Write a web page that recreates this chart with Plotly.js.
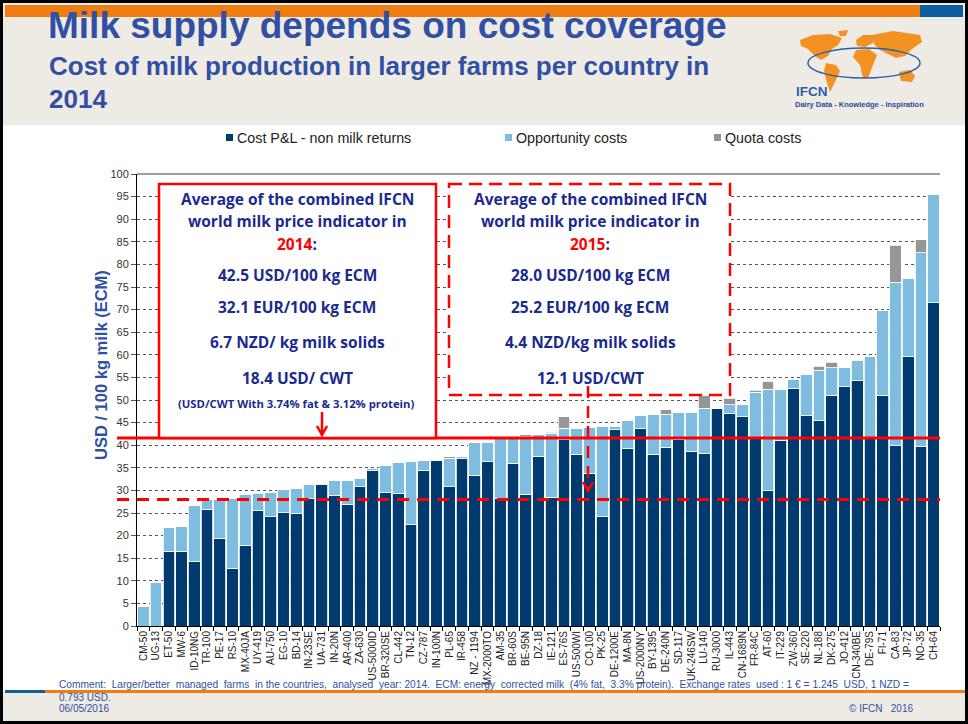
<!DOCTYPE html>
<html>
<head>
<meta charset="utf-8">
<script src="https://cdn.plot.ly/plotly-3.0.1.min.js"></script>
<style>
  html, body { margin: 0; padding: 0; background: #fff; }
  #chart { width: 968px; height: 724px; }
</style>
</head>
<body>
<div id="chart"></div>
<script>
// ---- data (USD / 100 kg ECM) ----
const countries = ['CM-50', 'UG-13', 'ET-50', 'MW-6', 'ID-10NG', 'TR-100', 'PE-17', 'RS-10', 'MX-40JA', 'UY-419',
  'AU-750', 'EG-10', 'BD-14', 'IN-23SE', 'UA-731', 'IN-20N', 'AR-400', 'ZA-630', 'US-5000ID', 'BR-320SE',
  'CL-442', 'TN-12', 'CZ-787', 'IN-100N', 'PL-65', 'IR-458', 'NZ - 1194', 'MX-2000TO', 'AM-35', 'BR-60S',
  'BE-95N', 'DZ-18', 'IE-121', 'ES-76S', 'US-500WI', 'CO-100', 'PK-25', 'DE-1200E', 'MA-8N', 'US-2000NY',
  'BY-1395', 'DE-240N', 'SD-117', 'UK-246SW', 'LU-140', 'RU-3000', 'IL-443', 'CN-1689N', 'FR-84C', 'AT-60',
  'IT-229', 'ZW-360', 'SE-220', 'NL-188', 'DK-275', 'JO-412', 'CN-340BE', 'DE-79S', 'FI-71', 'CA-83',
  'JP-72', 'NO-35', 'CH-64'];

const costPL = [0, 0, 16.5, 16.5, 14.2, 25.7, 19.4, 12.8, 17.9, 25.5,
  24.2, 25.1, 24.8, 28.2, 31.3, 28.8, 26.9, 30.8, 34.3, 29.5,
  29.3, 22.4, 34.5, 36.7, 30.8, 37.1, 33.4, 36.3, 28.3, 36.0,
  29.1, 37.6, 28.5, 41.2, 38.0, 33.8, 24.2, 43.4, 39.2, 43.7,
  38.0, 39.5, 41.2, 38.7, 38.2, 48.2, 47.0, 46.3, 41.7, 29.9,
  41.0, 52.6, 46.5, 45.4, 51.0, 52.9, 54.4, 41.7, 51.0, 39.9,
  59.6, 39.8, 71.5];

const opportunity = [4.4, 9.6, 5.3, 5.5, 12.5, 2.2, 8.6, 15.4, 11.1, 3.9,
  5.3, 5.1, 5.6, 3.0, 0.3, 3.3, 5.4, 1.9, 0.6, 6.0,
  6.8, 14.0, 2.2, 0, 6.3, 0.5, 7.2, 4.3, 13.2, 5.9,
  12.9, 4.7, 14.1, 2.5, 5.7, 10.1, 19.9, 0.8, 6.2, 2.8,
  8.8, 7.4, 6.0, 8.6, 10.0, 0, 1.9, 2.7, 10.0, 22.5,
  11.4, 2.0, 9.1, 11.2, 6.1, 4.3, 4.4, 17.9, 18.9, 36.1,
  17.2, 42.8, 23.9];

const quota = [0, 0, 0, 0, 0, 0, 0, 0, 0, 0,
  0, 0, 0, 0, 0, 0, 0, 0, 0, 0,
  0, 0, 0, 0, 0.4, 0, 0, 0, 0, 0,
  0.3, 0, 0.3, 2.6, 0, 0, 0, 0, 0, 0,
  0, 0.9, 0, 0, 2.7, 0, 1.5, 0, 0.5, 1.7,
  0, 0, 0, 0.9, 1.3, 0, 0, 0, 0, 8.2,
  0, 2.8, 0];

const seriesNames = ['Cost P&L - non milk returns', 'Opportunity costs', 'Quota costs'];
const seriesColors = ['#003B6F', '#7FBDE0', '#969696'];

const avg2014 = 41.6;   // solid red line
const avg2015 = 28.0;   // dashed red line
const yMax = 100;

const box2014 = ['Average of the combined IFCN', 'world milk price indicator in',
  '<span style="color:#ff0000">2014</span>:', '42.5 USD/100 kg ECM', '32.1 EUR/100 kg ECM',
  '6.7 NZD/ kg milk solids', '18.4 USD/ CWT'];
const box2015 = ['Average of the combined IFCN', 'world milk price indicator in',
  '<span style="color:#ff0000">2015</span>:', '28.0 USD/100 kg ECM', '25.2 EUR/100 kg ECM',
  '4.4 NZD/kg milk solids', '12.1 USD/CWT'];

// ---- page geometry helpers (pixel -> paper) ----
const PL = 137, PR = 940, PT = 174, PB = 626;
const X = px => (px - PL) / (PR - PL);
const Y = py => (PB - py) / (PB - PT);
const pathOf = pts => 'M' + pts.map(p => X(p[0]) + ',' + Y(p[1])).join('L') + 'Z';

const FONT = 'Liberation Sans, Arial, sans-serif';
const BOXFONT = 'Open Sans, Liberation Sans, sans-serif';
const BLUE = '#3150A3';
const NAVY = '#1B2A8E';

const shapes = [];
const annotations = [];

function rect(x0, y0, x1, y1, fill, line) {
  shapes.push({ type: 'rect', xref: 'paper', yref: 'paper', x0: X(x0), x1: X(x1), y0: Y(y0), y1: Y(y1),
    fillcolor: fill || 'rgba(0,0,0,0)', line: line || { width: 0 }, layer: 'above' });
}
function text(x, y, t, size, color, opts, family) {
  annotations.push(Object.assign({ xref: 'paper', yref: 'paper', x: X(x), y: Y(y), text: t, showarrow: false,
    xanchor: 'left', yanchor: 'middle', font: { family: family || FONT, size: size, color: color } }, opts || {}));
}

// header + footer background
rect(3, 3, 965, 125, '#EEEBE5');
rect(5, 5, 920, 17, '#EE7E12');
rect(920, 5, 963, 17, '#0F5C9E');
rect(3, 692, 965, 721, '#EEEBE5');
rect(45, 690, 965, 693, '#EE7E12');
rect(5, 690, 45, 693, '#0F5C9E');

// IFCN logo (rough world map with orbit)
const continents = [
  [[800, 40], [813, 35], [830, 34], [842, 38], [838, 45], [832, 49], [828, 56], [821, 60], [815, 56], [808, 49], [801, 46]],
  [[838, 31], [848, 30], [846, 36], [840, 36]],
  [[826, 63], [836, 65], [840, 71], [835, 82], [830, 92], [827, 83], [824, 71]],
  [[856, 40], [863, 35], [873, 35], [873, 43], [865, 47], [857, 46]],
  [[856, 50], [869, 49], [877, 55], [873, 65], [868, 78], [863, 78], [860, 65], [853, 57]],
  [[872, 35], [893, 31], [920, 35], [922, 42], [912, 49], [905, 56], [896, 58], [888, 54], [880, 50], [874, 44]],
  [[899, 72], [910, 70], [915, 76], [912, 82], [901, 81]]
];
continents.forEach(c => shapes.push({ type: 'path', xref: 'paper', yref: 'paper', path: pathOf(c),
  fillcolor: '#F39222', line: { width: 0 }, layer: 'above' }));
shapes.push({ type: 'circle', xref: 'paper', yref: 'paper', x0: X(808), x1: X(920), y0: Y(48), y1: Y(78),
  line: { color: '#2B5FA6', width: 1.5 }, layer: 'above' });
text(794, 91, '<b>IFCN</b>', 13.5, '#2B5FA6');
text(793, 104, '<b>Dairy Data - Knowledge - Inspiration</b>', 7.5, '#1F4A99');

// titles
text(46, 26, '<b>Milk supply depends on cost coverage</b>', 37, BLUE);
text(47, 66, '<b>Cost of milk production in larger farms per country in</b>', 26, BLUE);
text(47, 99, '<b>2014</b>', 26, BLUE);

// custom legend
const legendX = [226, 505, 714];
seriesNames.forEach((n, i) => {
  rect(legendX[i], 134, legendX[i] + 7, 141, seriesColors[i]);
  text(legendX[i] + 9, 138, n, 14.3, '#222');
});

// y axis title
text(101, 365, '<b>USD / 100 kg milk (ECM)</b>', 16.5, BLUE, { xanchor: 'center', textangle: -90 });

// top line at 100
shapes.push({ type: 'line', xref: 'paper', yref: 'paper', x0: 0, x1: 1, y0: 1, y1: 1,
  line: { color: '#A0A0A0', width: 2 }, layer: 'above' });

// average price lines
shapes.push({ type: 'line', xref: 'paper', yref: 'paper', x0: X(117), x1: 1, y0: avg2014 / yMax, y1: avg2014 / yMax,
  line: { color: '#FF0000', width: 3 }, layer: 'above' });
shapes.push({ type: 'line', xref: 'paper', yref: 'paper', x0: X(117), x1: 1, y0: avg2015 / yMax, y1: avg2015 / yMax,
  line: { color: '#FF0000', width: 3, dash: '12px,8px' }, layer: 'above' });

// boxes
rect(159, 184, 436, 438, '#fff', { color: '#FF0000', width: 2.5 });
rect(449, 184, 730, 395, '#fff', { color: '#FF0000', width: 2.5, dash: '13px,7px' });

// arrows
shapes.push({ type: 'path', xref: 'paper', yref: 'paper', path: 'M' + X(322) + ',' + Y(412) + 'L' + X(322) + ',' + Y(435),
  line: { color: '#FF0000', width: 2.5 }, layer: 'above' });
shapes.push({ type: 'path', xref: 'paper', yref: 'paper',
  path: 'M' + X(317) + ',' + Y(426) + 'L' + X(322) + ',' + Y(435) + 'L' + X(327) + ',' + Y(426),
  line: { color: '#FF0000', width: 2.5 }, layer: 'above' });
shapes.push({ type: 'path', xref: 'paper', yref: 'paper', path: 'M' + X(588) + ',' + Y(386) + 'L' + X(588) + ',' + Y(490),
  line: { color: '#FF0000', width: 2.5, dash: '12px,8px' }, layer: 'above' });
shapes.push({ type: 'path', xref: 'paper', yref: 'paper',
  path: 'M' + X(583) + ',' + Y(482) + 'L' + X(588) + ',' + Y(491) + 'L' + X(593) + ',' + Y(482),
  line: { color: '#FF0000', width: 2.5 }, layer: 'above' });

// box texts
const lineY = [199, 221, 244, 275, 307, 342, 378];
box2014.forEach((t, i) => text(297, lineY[i], '<b>' + t + '</b>', 15.5, NAVY, { xanchor: 'center' }, BOXFONT));
box2015.forEach((t, i) => text(590, lineY[i], '<b>' + t + '</b>', 15.5, NAVY, { xanchor: 'center' }, BOXFONT));
text(296, 403, '<b>(USD/CWT With 3.74% fat &amp; 3.12% protein)</b>', 11.3, NAVY, { xanchor: 'center' }, BOXFONT);

// footer texts
text(57, 684, 'Comment:  Larger/better  managed  farms  in the countries,  analysed  year: 2014.  ECM: energy  corrected milk  (4% fat,  3.3% protein).  Exchange rates  used : 1 € = 1.245  USD, 1 NZD =', 10.2, BLUE);
text(57, 697, '0.793 USD.', 10, BLUE);
text(57, 708, '06/05/2016', 10, BLUE);
text(915, 708, '© IFCN   2016', 10, BLUE, { xanchor: 'right' });

// outer frame
rect(1.5, 1.5, 966.5, 722.5, 'rgba(0,0,0,0)', { color: '#000', width: 3 });

// ---- bars ----
const traces = [costPL, opportunity, quota].map((vals, i) => ({
  type: 'bar',
  x: countries,
  y: vals,
  name: seriesNames[i],
  marker: { color: seriesColors[i], line: { color: '#ffffff', width: 0.8 } },
  hoverinfo: 'x+y+name'
}));

const layout = {
  width: 968,
  height: 724,
  margin: { l: PL, r: 968 - PR, t: PT, b: 724 - PB },
  paper_bgcolor: '#ffffff',
  plot_bgcolor: '#ffffff',
  barmode: 'stack',
  bargap: 0.08,
  showlegend: false,
  font: { family: FONT, color: '#222' },
  xaxis: {
    type: 'category',
    tickangle: -90,
    tickfont: { size: 10, color: '#222' },
    ticks: 'outside',
    tickson: 'boundaries',
    ticklen: 4,
    tickcolor: '#000',
    showline: true,
    linecolor: '#000',
    linewidth: 1,
    showgrid: false,
    automargin: false
  },
  yaxis: {
    range: [0, yMax],
    dtick: 5,
    ticks: 'outside',
    ticklen: 5,
    tickcolor: '#555',
    tickfont: { size: 11, color: '#333' },
    showline: true,
    linecolor: '#000',
    linewidth: 1,
    showgrid: true,
    gridcolor: '#555',
    griddash: 'dot',
    gridwidth: 1,
    zeroline: false,
    automargin: false
  },
  shapes: shapes,
  annotations: annotations
};

Plotly.newPlot('chart', traces, layout, { displayModeBar: false, responsive: false });
</script>
</body>
</html>
